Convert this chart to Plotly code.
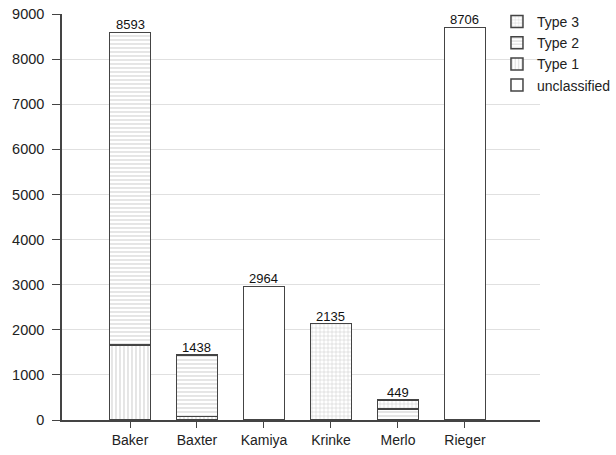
import plotly.graph_objects as go

categories = ["Baker", "Baxter", "Kamiya", "Krinke", "Merlo", "Rieger"]
unclassified = [None, None, 2964, None, None, 8706]
type1 = [1660, 80, None, None, None, None]
type2 = [6933, 1358, None, None, 240, None]
type3 = [None, None, None, 2135, 209, None]
totals = [8593, 1438, 2964, 2135, 449, 8706]
y_ticks = [0, 1000, 2000, 3000, 4000, 5000, 6000, 7000, 8000, 9000]

series = [
    ("unclassified", unclassified, ""),
    ("Type 1", type1, "|"),
    ("Type 2", type2, "-"),
    ("Type 3", type3, "+"),
]

fig = go.Figure()
for name, vals, shape in series:
    fig.add_trace(go.Bar(
        x=categories, y=vals, name=name, width=0.61,
        marker=dict(
            color="white",
            line=dict(color="#444444", width=1.5),
            pattern=dict(shape=shape, fgcolor="#999999", bgcolor="white",
                         size=4, solidity=0.25, fillmode="overlay") if shape else None,
        ),
    ))

for c, t in zip(categories, totals):
    fig.add_annotation(x=c, y=t, text=str(t), showarrow=False, yanchor="bottom",
                       yshift=-2, font=dict(size=13, color="#111111"))

fig.update_layout(
    width=616, height=455,
    barmode="stack",
    plot_bgcolor="white", paper_bgcolor="white",
    margin=dict(l=62, r=76, t=14, b=35, autoexpand=False),
    font=dict(family="Liberation Sans, Arial, sans-serif", size=14, color="#222222"),
    legend=dict(traceorder="reversed", x=0.91, y=1.02, xanchor="left", yanchor="top",
                bgcolor="rgba(0,0,0,0)", font=dict(size=14), itemwidth=30,
                tracegroupgap=0),
    showlegend=True,
)
fig.update_xaxes(range=[-1.015, 6.12], showline=True, linecolor="#444444", linewidth=1.5,
                 ticks="outside", ticklen=6, tickcolor="#444444", showgrid=False,
                 tickfont=dict(size=14))
fig.update_yaxes(range=[0, 9000], tickvals=y_ticks, showline=True, linecolor="#444444",
                 linewidth=1.5, ticks="outside", ticklen=8, tickcolor="#444444",
                 showgrid=True, gridcolor="#e0e0e0", gridwidth=1, zeroline=False,
                 tickfont=dict(size=14.5), ticklabelstandoff=5)

fig.write_html("out.html", config={"displayModeBar": False},
               post_script="document.body.style.margin='0';")
